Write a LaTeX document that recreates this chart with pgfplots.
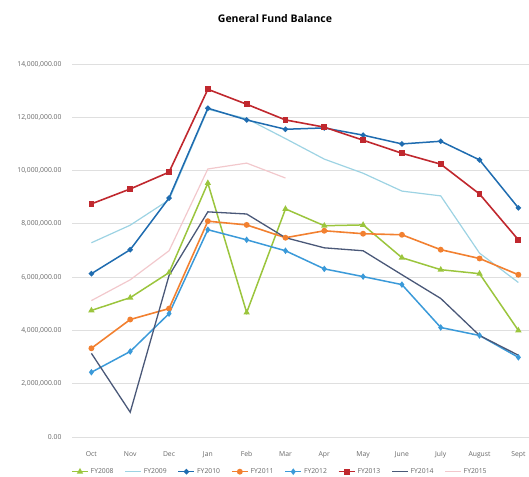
\documentclass[border=0pt]{standalone}
\usepackage{pgfplots}
\pgfplotsset{compat=1.18}
\usepackage{fontspec}
\setmainfont{Open Sans}
\definecolor{c08}{HTML}{9BC53D}
\definecolor{c09}{HTML}{9DD3E3}
\definecolor{c10}{HTML}{1F6CB0}
\definecolor{c11}{HTML}{F28030}
\definecolor{c12}{HTML}{3B9AD9}
\definecolor{c13}{HTML}{C0282E}
\definecolor{c14}{HTML}{4A5878}
\definecolor{c15}{HTML}{F2C8CC}
\begin{document}
\begin{tikzpicture}
\useasboundingbox (0,0) rectangle (529pt,476pt);
\node[font=\bfseries\fontsize{10.5}{12}\selectfont] at (275pt,457pt) {General Fund Balance};
\begin{axis}[
  at={(72pt,39pt)}, anchor=south west,
  scale only axis, width=458pt, height=373pt,
  xmin=-0.5, xmax=11.3, ymin=0, ymax=14000000,
  axis line style={draw=none},
  xtick={0,...,11},
  xticklabels={Oct,Nov,Dec,Jan,Feb,Mar,Apr,May,June,July,August,Sept},
  ytick={0,2000000,4000000,6000000,8000000,10000000,12000000,14000000},
  yticklabels={{0.00},{2,000,000.00},{4,000,000.00},{6,000,000.00},{8,000,000.00},{10,000,000.00},{12,000,000.00},{14,000,000.00}},
  ymajorgrids, grid style={gray!25, line width=0.9pt},
  major tick length=0pt,
  tick label style={font=\fontsize{6.8}{8}\selectfont, text=gray!80!black},
  xticklabel style={yshift=-11pt},
  yticklabel style={xshift=-7pt},
  scaled y ticks=false,
  legend columns=8,
  legend style={at={(0.454,-0.093)}, anchor=center, draw=none, fill=none,
    font=\fontsize{6.8}{8}\selectfont, text=gray!80!black,
    /tikz/every even column/.append style={column sep=9pt}},
  legend image code/.code={\draw[#1] (0pt,0pt) -- (16pt,0pt); \draw[#1, only marks] plot coordinates {(8pt,0pt)};},
]
\addplot[c08, line width=1.5pt, mark=triangle*, mark size=2.2pt] coordinates {
(0,4750000) (1,5230000) (2,6170000) (3,9530000) (4,4670000) (5,8560000)
(6,7930000) (7,7960000) (8,6730000) (9,6280000) (10,6130000) (11,4000000)};
\addlegendentry{FY2008}
\addplot[c09, line width=1.2pt] coordinates {
(0,7290000) (1,7950000) (2,8900000) (3,12300000) (4,11950000) (5,11200000)
(6,10430000) (7,9900000) (8,9230000) (9,9050000) (10,6900000) (11,5800000)};
\addlegendentry{FY2009}
\addplot[c10, line width=1.5pt, mark=*, mark size=1.9pt] coordinates {
(0,6130000) (1,7030000) (2,8970000) (3,12340000) (4,11900000) (5,11550000)
(6,11600000) (7,11330000) (8,11000000) (9,11100000) (10,10400000) (11,8600000)};
\addlegendentry{FY2010}
\addplot[c11, line width=1.6pt, mark=*, mark size=2.1pt] coordinates {
(0,3330000) (1,4410000) (2,4820000) (3,8100000) (4,7960000) (5,7480000)
(6,7740000) (7,7630000) (8,7590000) (9,7030000) (10,6700000) (11,6090000)};
\addlegendentry{FY2011}
\addplot[c12, line width=1.5pt, mark=diamond*, mark size=2.1pt] coordinates {
(0,2430000) (1,3210000) (2,4630000) (3,7780000) (4,7400000) (5,6990000)
(6,6310000) (7,6020000) (8,5720000) (9,4110000) (10,3810000) (11,2990000)};
\addlegendentry{FY2012}
\addplot[c13, line width=1.6pt, mark=square*, mark size=2.1pt] coordinates {
(0,8750000) (1,9310000) (2,9940000) (3,13050000) (4,12490000) (5,11900000)
(6,11630000) (7,11140000) (8,10650000) (9,10240000) (10,9120000) (11,7400000)};
\addlegendentry{FY2013}
\addplot[c14, line width=1.3pt] coordinates {
(0,3140000) (1,930000) (2,6060000) (3,8450000) (4,8370000) (5,7480000)
(6,7100000) (7,6990000) (8,6090000) (9,5200000) (10,3810000) (11,3070000)};
\addlegendentry{FY2014}
\addplot[c15, line width=1.2pt] coordinates {
(0,5120000) (1,5900000) (2,6990000) (3,10060000) (4,10280000) (5,9720000)};
\addlegendentry{FY2015}
\end{axis}
\end{tikzpicture}
\end{document}
